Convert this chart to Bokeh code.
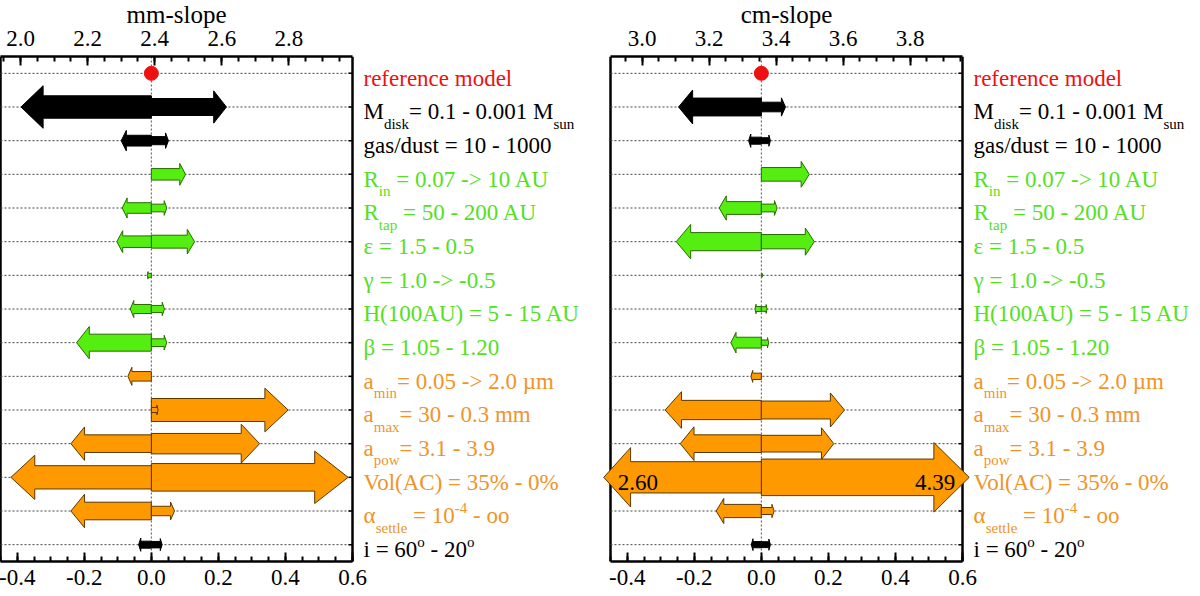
import math
from bokeh.plotting import figure
from bokeh.layouts import row
from bokeh.models import Range1d, LinearAxis, SingleIntervalTicker, PrintfTickFormatter, Title
from bokeh.core.properties import value
from bokeh.embed import file_html
from bokeh.resources import INLINE

nan = float("nan")

# parameter labels as (text, shift) pieces: 0 normal, -1 subscript, 1 superscript
param_labels = [
    [("reference model", 0)],
    [("M", 0), ("disk", -1), ("= 0.1 - 0.001 M", 0), ("sun", -1)],
    [("gas/dust = 10 - 1000", 0)],
    [("R", 0), ("in", -1), (" = 0.07 -> 10 AU", 0)],
    [("R", 0), ("tap", -1), (" = 50 - 200 AU", 0)],
    [("ε = 1.5 - 0.5", 0)],
    [("γ = 1.0 -> -0.5", 0)],
    [("H(100AU) = 5 - 15 AU", 0)],
    [("β = 1.05 - 1.20", 0)],
    [("a", 0), ("min", -1), ("= 0.05 -> 2.0 µm", 0)],
    [("a", 0), ("max", -1), ("= 30 - 0.3 mm", 0)],
    [("a", 0), ("pow", -1), ("= 3.1 - 3.9", 0)],
    [("Vol(AC) = 35% - 0%", 0)],
    [("α", 0), ("settle", -1), (" = 10", 0), ("-4", 1), (" - oo", 0)],
    [("i = 60", 0), ("o", 1), (" - 20", 0), ("o", 1)],
]
param_group = ["ref", "black", "black", "green", "green", "green", "green", "green",
               "green", "orange", "orange", "orange", "orange", "orange", "black"]

# slopes of the reference model
mm_ref = 2.39
cm_ref = 3.356

# change of the slope at the two ends of each parameter range (nan = none)
mm_d1 = [nan, -0.389, -0.090, nan, -0.087, -0.103, -0.012, -0.063, -0.223, -0.070,
         0.020, -0.240, -0.419, -0.240, -0.038]
mm_d2 = [nan, 0.224, 0.051, 0.102, 0.046, 0.129, nan, 0.039, 0.046, nan,
         0.408, 0.323, 0.587, 0.069, 0.032]
cm_d1 = [nan, -0.247, -0.038, nan, -0.126, -0.254, nan, -0.019, -0.091, -0.031,
         -0.287, -0.242, -0.756, -0.135, -0.030]
cm_d2 = [nan, 0.072, 0.027, 0.143, 0.047, 0.158, 0.003, 0.017, 0.022, nan,
         0.248, 0.216, 1.034, 0.038, 0.027]

text_col = {"ref": "#ee1111", "black": "black", "green": "#55e022", "orange": "#f09428"}
fill_col = {"black": "black", "green": "#55ee11", "orange": "#ff9900"}
edge_col = {"black": "black", "green": "#2a6a00", "orange": "#5a3800"}

X_LO, X_HI = -0.45, 0.6
N = len(param_labels)
BOX_W = 352                   # px width of the axis box
KX = BOX_W / (X_HI - X_LO)    # px per slope unit
KY = 33.7                     # approx px per row
EPS = 1e-9
FONT = "Liberation Serif"

# rough Times widths (em) to place the sub/superscripts
em = {" ": .25, "%": .833, "(": .333, ")": .333, "-": .333, ".": .25, "/": .278, "=": .564,
      ">": .564, "A": .722, "C": .667, "H": .722, "M": .889, "R": .667, "U": .722, "V": .722,
      "a": .444, "c": .444, "e": .444, "f": .333, "i": .278, "l": .278, "m": .778, "r": .333,
      "s": .389, "t": .278, "w": .722, "α": .53, "β": .5, "γ": .45, "ε": .44}


def text_w(s, size):
    return sum(em.get(c, .5) for c in s) * size


def style_x(ax, lo, hi, standoff):
    ax.bounds = (lo - EPS, hi + EPS)
    ax.ticker = SingleIntervalTicker(interval=0.2, num_minor_ticks=4)
    ax.formatter = PrintfTickFormatter(format="%.1f")
    ax.axis_line_width = 2.5
    ax.major_tick_in = 9
    ax.major_tick_out = 0
    ax.minor_tick_in = 5
    ax.minor_tick_out = 0
    ax.major_tick_line_width = 2
    ax.minor_tick_line_width = 2
    ax.major_label_text_font = FONT
    ax.major_label_text_font_size = "23px"
    ax.major_label_text_color = "black"
    ax.major_label_standoff = standoff


def panel(name, ref, d1, d2, width, pad_px):
    x0 = X_LO - pad_px / KX
    title = Title(text=name, align="left", offset=pad_px + BOX_W / 2 - text_w(name, 25) / 2,
                  text_font=FONT, text_font_size="25px", text_font_style="normal",
                  text_color="black", standoff=0)
    p = figure(width=width, height=596, x_range=Range1d(x0, x0 + width / KX),
               y_range=Range1d(N + 0.5, 0.5), title=title, output_backend="svg",
               toolbar_location=None, y_axis_location=None,
               min_border_left=0, min_border_right=0, min_border_top=59, min_border_bottom=32)
    p.outline_line_color = None
    p.grid.visible = False

    style_x(p.xaxis[0], X_LO, X_HI, 8)
    p.extra_x_ranges = {"slope": Range1d(x0 + ref, x0 + width / KX + ref)}
    top = LinearAxis(x_range_name="slope")
    style_x(top, X_LO + ref, X_HI + ref, 11)
    p.add_layout(top, "above")

    rows = list(range(1, N + 1))
    # box sides, dotted row lines, zero line, row ticks
    p.segment(x0=[X_LO, X_HI], y0=[0.5, 0.5], x1=[X_LO, X_HI], y1=[N + 0.5, N + 0.5],
              line_color="black", line_width=2.5)
    p.segment(x0=[X_LO] * N, y0=rows, x1=[X_HI] * N, y1=rows, line_color="#444444",
              line_dash="2 2", line_width=1)
    p.segment(x0=[0], y0=[0.5], x1=[0], y1=[N + 0.5], line_color="#555555",
              line_dash="2 2", line_width=1)
    p.ray(x=[X_HI] * N, y=rows, length=4, length_units="screen", angle=math.pi,
          line_color="black", line_width=1.5)

    # block arrows: thickness grows with the slope change
    lo, hi = X_LO - 0.02, X_HI + 0.02
    xs, ys, fc, lc = [], [], [], []
    tx, ty, tt, ta = [], [], [], []
    for i in range(N):
        g = param_group[i]
        y = i + 1
        vals = [v for v in (d1[i], d2[i]) if not math.isnan(v)]
        for v in sorted(vals, key=abs, reverse=True):
            u = min(max(v, lo), hi)
            s = 1 if v > 0 else -1
            hs = 18 * math.sqrt(abs(v)) / KY
            hh = 1.9 * hs
            b = u - s * 0.17 * abs(u)
            xs.append([0, b, b, u, b, b, 0])
            ys.append([y - hs, y - hs, y - hh, y, y + hh, y + hs, y + hs])
            fc.append(fill_col[g])
            lc.append(edge_col[g])
            if u != v:
                tx.append(u - s * 14 / KX)
                ty.append(y + 5 / KY)
                tt.append("%.2f" % (ref + v))
                ta.append("left" if s < 0 else "right")
    p.patches(xs, ys, fill_color=fc, line_color=lc, line_width=1)
    if tt:
        p.text(x=tx, y=ty, text=tt, text_align=ta, text_baseline="alphabetic",
               text_font=value(FONT), text_font_size="23px", text_color="black")

    p.scatter(x=[0.0], y=[1], size=14, color=text_col["ref"])

    # parameter labels right of the box
    lx, ly, lt, lcol, lsize = [], [], [], [], []
    for i, pieces in enumerate(param_labels):
        x = 11
        for txt, shift in pieces:
            size = 23 if shift == 0 else 15
            lead = len(txt) - len(txt.lstrip(" "))
            x += lead * em[" "] * 23
            txt = txt.lstrip(" ")
            lx.append(X_HI + x / KX)
            ly.append(i + 1 + {0: 5, -1: 16.7, 1: -3}[shift] / KY)
            lt.append(txt)
            lcol.append(text_col[param_group[i]])
            lsize.append("%dpx" % size)
            x += text_w(txt, size)
    p.text(x=lx, y=ly, text=lt, text_color=lcol, text_font_size=lsize,
           text_font=value(FONT), text_baseline="alphabetic", text_align="left")
    return p


p1 = panel("mm-slope", mm_ref, mm_d1, mm_d2, 600, 3)
p2 = panel("cm-slope", cm_ref, cm_d1, cm_d2, 600, 13)
# pull the layout over the 8px page margin so it fills the whole window
p = row(p1, p2, margin=(-3, -5, -5, -3))

open("out.html", "w").write(file_html(p, INLINE))
